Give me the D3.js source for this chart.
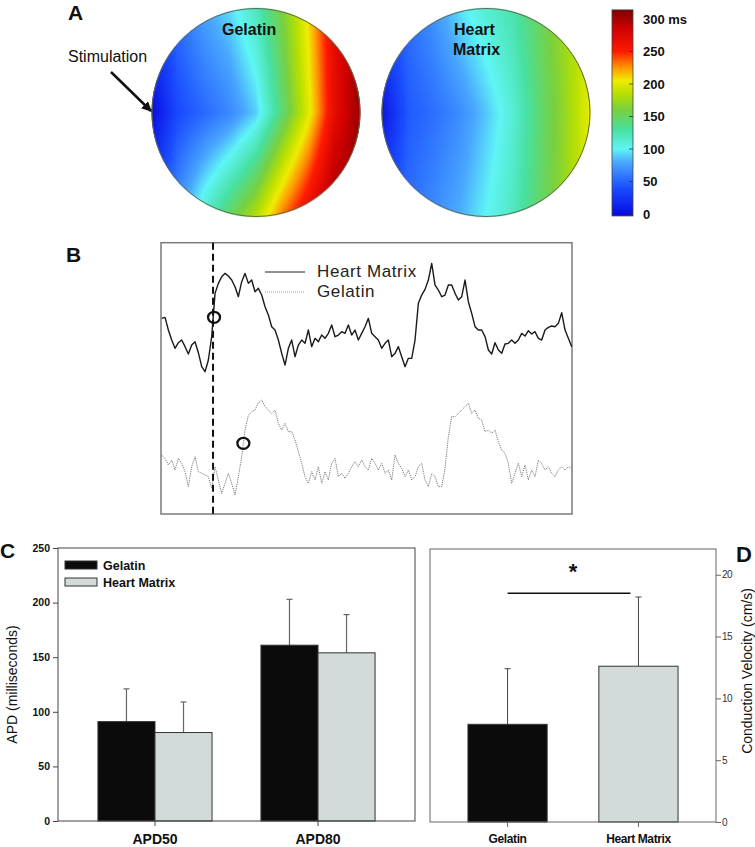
<!DOCTYPE html>
<html><head><meta charset="utf-8">
<script src="https://cdn.jsdelivr.net/npm/d3@7"></script>
<style>
body{margin:0;background:#fff;}
svg{display:block;font-family:"Liberation Sans",Arial,Helvetica,sans-serif;}
</style></head><body>
<svg id="fig" width="755" height="847"></svg>
<script>
// ---------------- DATA ----------------
// Panel A: activation time maps (ms), sampled on 9 columns x 3 rows (top edge, centre line, bottom edge)
const colorbarTicks = [0, 50, 100, 150, 200, 250, 300];
const colorbarRange = [-3, 314];
const colorStopValues = [-3, 40, 80, 100, 130, 160, 185, 205, 225, 250, 285, 314];
const colorStopColors = ["#0808e0", "#1a4dff", "#4aa8ff", "#5ff5f5", "#48e0a0", "#78d040", "#b8e000", "#f0ec00", "#ff9800", "#ff1a00", "#d00000", "#800000"];
const gelatinTop    = [30, 55, 78, 94, 120, 160, 208, 270, 305];
const gelatinMid    = [0, 38, 52, 66, 90, 143, 198, 268, 305];
const gelatinBottom = [35, 73, 115, 150, 184, 232, 270, 305, 310];
const heartTop      = [40, 55, 72, 95, 112, 125, 150, 175, 198];
const heartMid      = [5, 45, 55, 68, 88, 110, 142, 170, 203];
const heartBottom   = [40, 55, 68, 82, 100, 118, 145, 172, 198];

// Panel B: optical action potential traces (arbitrary units), uniform samples
const traceHeart = [
58.7,59.0,55.2,52.2,49.7,51.4,52.2,50.2,48.0,50.7,
51.7,48.4,44.2,42.7,46.2,53.2,66.2,69.2,71.2,72.2,
71.4,70.2,68.2,65.2,69.7,72.2,69.2,70.2,66.7,67.7,
65.7,62.2,59.7,56.2,55.2,52.2,48.2,44.7,49.7,52.2,
47.2,50.7,52.2,51.2,55.2,50.2,52.7,51.7,53.7,52.7,
54.2,56.7,53.2,53.7,54.7,54.2,56.7,53.7,55.2,52.2,
54.2,56.2,58.7,54.2,53.2,52.2,49.7,51.2,52.2,47.2,
48.2,50.2,47.2,44.2,46.7,46.7,52.2,63.2,65.7,67.4,
70.2,75.2,68.7,67.2,65.2,65.7,68.7,68.7,66.2,64.2,
65.2,70.2,63.7,60.2,56.2,55.2,55.2,53.2,49.2,48.0,
51.4,49.2,48.2,51.0,51.2,52.2,51.2,52.2,54.2,53.4,
55.0,54.0,54.7,52.7,52.2,55.2,56.0,56.4,56.2,57.2,
60.4,55.2,52.7,50.2];
const traceGelatin = [
17.7,16.7,14.7,16.2,13.2,16.7,15.2,12.7,8.2,14.2,
17.2,12.7,12.2,11.7,11.2,7.7,14.2,10.2,6.2,9.2,
12.2,9.2,5.7,11.2,17.2,25.2,29.6,30.7,31.2,33.4,
34.2,32.2,31.2,30.2,31.2,27.2,25.2,27.2,24.7,24.7,
22.2,18.7,15.2,11.2,9.2,12.7,10.2,14.2,9.2,12.7,
10.2,15.2,16.7,11.2,12.2,10.7,12.2,14.2,15.7,14.2,
16.2,14.2,13.2,16.7,15.2,13.2,15.2,12.2,13.2,10.2,
17.7,15.2,13.7,11.2,13.2,10.2,11.2,14.2,15.2,10.2,
8.2,12.2,11.2,8.2,8.2,13.7,23.2,29.2,29.2,30.2,
31.2,32.2,33.2,30.2,31.2,28.7,28.2,24.7,25.2,24.2,
25.2,21.7,19.2,18.2,15.2,9.2,12.2,15.2,11.2,14.7,
10.2,13.2,11.2,16.2,15.2,13.2,14.2,12.2,11.2,13.2,
14.2,13.2,14.2,13.7];
const traceRange = [0, 81.4];
const stimulusSample = 15.4;
const markerSeries = ["Heart Matrix", "Gelatin"];
const markerSample = [15.7, 24.5];
const markerValue = [59.0, 21.2];

// Panel C: action potential duration (ms)
const apdCategories = ["APD50", "APD80"];
const groups = ["Gelatin", "Heart Matrix"];
const apdGelatin = [91, 161];
const apdGelatinErr = [30, 42];
const apdHeart = [81, 154];
const apdHeartErr = [28, 35];
const apdTicks = [0, 50, 100, 150, 200, 250];

// Panel D: conduction velocity (cm/s)
const cvCategories = ["Gelatin", "Heart Matrix"];
const cvMean = [7.9, 12.6];
const cvErr = [4.5, 5.6];
const cvTicks = [0, 5, 10, 15, 20];
const cvSignificance = 18.5;

// ---------------- DRAW ----------------
const svg = d3.select("#fig");
const colorScale = d3.scaleLinear().domain(colorStopValues).range(colorStopColors).clamp(true);
const lut = d3.range(0, 1301).map(k => d3.rgb(colorScale(colorbarRange[0] + k / 4)));
function lookup(v) { let k = Math.round((v - colorbarRange[0]) * 4); k = Math.max(0, Math.min(1300, k)); return lut[k]; }

function drawMap(cx, cy, r, rows) {
  const colX = d3.scaleLinear().domain([cx - r, cx + r]).range([0, rows[0].length - 1]).clamp(true);
  const rowY = d3.scaleLinear().domain([cy - r, cy, cy + r]).range([0, 1, 2]).clamp(true);
  const size = Math.ceil(2 * r + 4);
  const x0 = cx - size / 2, y0 = cy - size / 2;
  const canvas = document.createElement("canvas");
  canvas.width = size; canvas.height = size;
  const ctx = canvas.getContext("2d");
  const img = ctx.createImageData(size, size);
  const nc = rows[0].length;
  for (let j = 0; j < size; j++) for (let i = 0; i < size; i++) {
    const px = x0 + i + 0.5, py = y0 + j + 0.5;
    const dx = px - cx, dy = py - cy;
    const d = Math.sqrt(dx * dx + dy * dy);
    if (d > r + 1) continue;
    const cf = colX(px), rf = rowY(py);
    const c0 = Math.min(Math.floor(cf), nc - 2), ct = cf - c0;
    const r0 = Math.min(Math.floor(rf), 1), rt = rf - r0;
    const val = row => row[c0] * (1 - ct) + row[c0 + 1] * ct;
    const v = val(rows[r0]) * (1 - rt) + val(rows[r0 + 1]) * rt;
    const c = lookup(v);
    const a = Math.max(0, Math.min(1, r + 1 - d));
    const idx = (j * size + i) * 4;
    img.data[idx] = c.r; img.data[idx + 1] = c.g; img.data[idx + 2] = c.b; img.data[idx + 3] = Math.round(a * 255);
  }
  ctx.putImageData(img, 0, 0);
  svg.append("image").attr("x", x0).attr("y", y0).attr("width", size).attr("height", size)
    .attr("href", canvas.toDataURL());
  svg.append("circle").attr("cx", cx).attr("cy", cy).attr("r", r)
    .attr("fill", "none").attr("stroke", "#5a6a50").attr("stroke-width", 1);
}
drawMap(256, 112.5, 104, [gelatinTop, gelatinMid, gelatinBottom]);
drawMap(486, 112.5, 104, [heartTop, heartMid, heartBottom]);

// panel labels
const panelLabel = (t, x, y, s) => svg.append("text").attr("x", x).attr("y", y).attr("font-size", s)
  .attr("font-weight", "bold").attr("fill", "#111").text(t);
panelLabel("A", 68, 20, 21);
panelLabel("B", 66, 262, 21);
panelLabel("C", 0, 558, 21);
panelLabel("D", 736, 562, 22);

// map titles
svg.append("text").attr("x", 222).attr("y", 35).attr("font-size", 16).attr("font-weight", "bold").attr("fill", "#111").text("Gelatin");
svg.append("text").attr("x", 454).attr("y", 35).attr("font-size", 16).attr("font-weight", "bold").attr("fill", "#111").text("Heart");
svg.append("text").attr("x", 453).attr("y", 55).attr("font-size", 16).attr("font-weight", "bold").attr("fill", "#111").text("Matrix");

// stimulation arrow
const defs = svg.append("defs");
defs.append("marker").attr("id", "arrow").attr("viewBox", "0 0 10 10").attr("refX", 9).attr("refY", 5)
  .attr("markerWidth", 4).attr("markerHeight", 4).attr("orient", "auto")
  .append("path").attr("d", "M0,0 L10,5 L0,10 z").attr("fill", "#111");
svg.append("text").attr("x", 68).attr("y", 62).attr("font-size", 16).attr("fill", "#111").text("Stimulation");
svg.append("line").attr("x1", 111).attr("y1", 72).attr("x2", 151).attr("y2", 111)
  .attr("stroke", "#111").attr("stroke-width", 2.5).attr("marker-end", "url(#arrow)");

// colorbar
const cbY = d3.scaleLinear().domain([0, 300]).range([214, 19]);
const grad = defs.append("linearGradient").attr("id", "cbgrad").attr("x1", 0).attr("y1", 1).attr("x2", 0).attr("y2", 0);
const cbFrac = d3.scaleLinear().domain(colorbarRange).range([0, 1]);
colorStopValues.forEach((v, k) => grad.append("stop").attr("offset", cbFrac(v)).attr("stop-color", colorStopColors[k]));
svg.append("rect").attr("x", 612).attr("y", cbY(colorbarRange[1])).attr("width", 21)
  .attr("height", cbY(colorbarRange[0]) - cbY(colorbarRange[1])).attr("fill", "url(#cbgrad)")
  .attr("stroke", "#444").attr("stroke-width", 0.8);
colorbarTicks.forEach(t => {
  svg.append("line").attr("x1", 629).attr("x2", 633).attr("y1", cbY(t)).attr("y2", cbY(t)).attr("stroke", "#333").attr("stroke-width", 0.8);
  svg.append("text").attr("x", 643).attr("y", cbY(t)).attr("dy", "0.36em").attr("font-size", 13)
    .attr("font-weight", "bold").attr("fill", "#111").text(t === 300 ? "300 ms" : t);
});

// ---------- Panel B ----------
const tX = d3.scaleLinear().domain([0, traceHeart.length - 1]).range([161.7, 571.7]);
const tY = d3.scaleLinear().domain(traceRange).range([514, 242.7]);
svg.append("rect").attr("x", 161).attr("y", 242.7).attr("width", 411).attr("height", 271.3)
  .attr("fill", "none").attr("stroke", "#7a7a7a").attr("stroke-width", 1.5);
const line = d3.line().x((d, i) => tX(i)).y(d => tY(d));
svg.append("path").datum(traceGelatin).attr("d", line).attr("fill", "none")
  .attr("stroke", "#7a7a7a").attr("stroke-width", 1).attr("stroke-dasharray", "1.2,1");
svg.append("path").datum(traceHeart).attr("d", line).attr("fill", "none")
  .attr("stroke", "#1a1a1a").attr("stroke-width", 1.4).attr("stroke-linejoin", "round");
svg.append("line").attr("x1", tX(stimulusSample)).attr("x2", tX(stimulusSample))
  .attr("y1", tY(traceRange[1])).attr("y2", tY(traceRange[0]))
  .attr("stroke", "#111").attr("stroke-width", 2).attr("stroke-dasharray", "7,4");
markerSample.forEach((s, k) => svg.append("ellipse").attr("cx", tX(s)).attr("cy", tY(markerValue[k]))
  .attr("rx", 6).attr("ry", 5.5).attr("fill", "none").attr("stroke", "#111").attr("stroke-width", 2.3));
// legend B
svg.append("line").attr("x1", 265).attr("x2", 305).attr("y1", 272).attr("y2", 272).attr("stroke", "#222").attr("stroke-width", 1);
svg.append("line").attr("x1", 265).attr("x2", 305).attr("y1", 292).attr("y2", 292).attr("stroke", "#999").attr("stroke-width", 1).attr("stroke-dasharray", "1,1");
svg.append("text").attr("x", 317).attr("y", 277).attr("font-size", 17).attr("letter-spacing", 0.6).attr("fill", "#222").text("Heart Matrix");
svg.append("text").attr("x", 317).attr("y", 297).attr("font-size", 17).attr("letter-spacing", 0.6).attr("fill", "#222").text("Gelatin");

// ---------- Panel C ----------
const xC = d3.scaleBand().domain(apdCategories).range([58, 415]).paddingInner(0.3).paddingOuter(0.245);
const xCg = d3.scaleBand().domain(groups).range([0, xC.bandwidth()]);
const yC = d3.scaleLinear().domain([0, 250]).range([821, 548]);
const fills = { "Gelatin": "#0b0b0b", "Heart Matrix": "#d3dbda" };
const apdData = apdCategories.flatMap((c, i) => [
  { cat: c, g: "Gelatin", v: apdGelatin[i], e: apdGelatinErr[i] },
  { cat: c, g: "Heart Matrix", v: apdHeart[i], e: apdHeartErr[i] }]);
const gC = svg.append("g");
apdData.forEach(d => {
  const cx = xC(d.cat) + xCg(d.g) + xCg.bandwidth() / 2;
  gC.append("line").attr("x1", cx).attr("x2", cx).attr("y1", yC(d.v)).attr("y2", yC(d.v + d.e)).attr("stroke", "#666").attr("stroke-width", 1.2);
  gC.append("line").attr("x1", cx - 3).attr("x2", cx + 3).attr("y1", yC(d.v + d.e)).attr("y2", yC(d.v + d.e)).attr("stroke", "#666").attr("stroke-width", 1.2);
  gC.append("rect").attr("x", xC(d.cat) + xCg(d.g)).attr("y", yC(d.v)).attr("width", xCg.bandwidth())
    .attr("height", yC(0) - yC(d.v)).attr("fill", fills[d.g]).attr("stroke", "#333").attr("stroke-width", 1);
});
svg.append("rect").attr("x", 58).attr("y", 548).attr("width", 357).attr("height", 273).attr("fill", "none").attr("stroke", "#444").attr("stroke-width", 1);
const axCy = svg.append("g").attr("transform", "translate(58,0)").call(d3.axisLeft(yC).tickValues(apdTicks).tickSize(5).tickPadding(3));
axCy.select(".domain").remove();
axCy.selectAll("line").attr("stroke", "#444");
axCy.selectAll("text").attr("font-size", 10.5).attr("font-weight", "bold").attr("fill", "#111").attr("font-family", "Liberation Sans, Arial, sans-serif");
const axCx = svg.append("g").attr("transform", "translate(0,821)").call(d3.axisBottom(xC).tickSize(5).tickPadding(8));
axCx.select(".domain").remove();
axCx.selectAll("line").attr("stroke", "#444");
axCx.selectAll("text").attr("font-size", 14).attr("font-weight", "bold").attr("fill", "#111").attr("font-family", "Liberation Sans, Arial, sans-serif");
svg.append("text").attr("transform", "translate(17,684.5) rotate(-90)").attr("text-anchor", "middle")
  .attr("font-size", 14).attr("fill", "#111").text("APD (milliseconds)");
// legend C
groups.forEach((g, k) => {
  svg.append("rect").attr("x", 65).attr("y", 561 + k * 17).attr("width", 32).attr("height", 8)
    .attr("fill", fills[g]).attr("stroke", "#333").attr("stroke-width", 1);
  svg.append("text").attr("x", 103).attr("y", 569.5 + k * 17).attr("font-size", 12.5).attr("font-weight", "bold").attr("fill", "#111").text(g);
});

// ---------- Panel D ----------
const xD = d3.scaleBand().domain(cvCategories).range([430, 716]).paddingInner(0.395).paddingOuter(0.29);
const yD = d3.scaleLinear().domain([0, 22]).range([822, 550]);
const gD = svg.append("g");
cvCategories.forEach((c, i) => {
  const cx = xD(c) + xD.bandwidth() / 2;
  gD.append("line").attr("x1", cx).attr("x2", cx).attr("y1", yD(cvMean[i])).attr("y2", yD(cvMean[i] + cvErr[i])).attr("stroke", "#444").attr("stroke-width", 1);
  gD.append("line").attr("x1", cx - 3).attr("x2", cx + 3).attr("y1", yD(cvMean[i] + cvErr[i])).attr("y2", yD(cvMean[i] + cvErr[i])).attr("stroke", "#444").attr("stroke-width", 1);
  gD.append("rect").attr("x", xD(c)).attr("y", yD(cvMean[i])).attr("width", xD.bandwidth())
    .attr("height", yD(0) - yD(cvMean[i])).attr("fill", fills[c]).attr("stroke", "#333").attr("stroke-width", 1);
});
svg.append("rect").attr("x", 430).attr("y", 549).attr("width", 286).attr("height", 273).attr("fill", "none").attr("stroke", "#666").attr("stroke-width", 1);
const axDy = svg.append("g").attr("transform", "translate(716,0)").call(d3.axisRight(yD).tickValues(cvTicks).tickSize(5).tickPadding(1));
axDy.select(".domain").remove();
axDy.selectAll("line").attr("stroke", "#666");
axDy.selectAll("text").attr("font-size", 10).attr("fill", "#333").attr("letter-spacing", -0.5).attr("font-family", "Liberation Sans, Arial, sans-serif");
const axDx = svg.append("g").attr("transform", "translate(0,822)").call(d3.axisBottom(xD).tickSize(5).tickPadding(7.5));
axDx.select(".domain").remove();
axDx.selectAll("line").attr("stroke", "#666");
axDx.selectAll("text").attr("font-size", 12).attr("font-weight", "bold").attr("letter-spacing", -0.4).attr("fill", "#111").attr("font-family", "Liberation Sans, Arial, sans-serif");
svg.append("text").attr("transform", "translate(752,671) rotate(-90)").attr("text-anchor", "middle")
  .attr("font-size", 14).attr("fill", "#111").text("Conduction Velocity (cm/s)");
// significance
const c0 = xD(cvCategories[0]) + xD.bandwidth() / 2, c1 = xD(cvCategories[1]) + xD.bandwidth() / 2;
svg.append("line").attr("x1", c0).attr("x2", c1 - 8).attr("y1", yD(cvSignificance)).attr("y2", yD(cvSignificance)).attr("stroke", "#111").attr("stroke-width", 1.5);
svg.append("text").attr("x", (c0 + c1) / 2).attr("y", 579).attr("text-anchor", "middle").attr("font-size", 22).attr("font-weight", "bold").attr("fill", "#111").text("*");
</script>
</body></html>
